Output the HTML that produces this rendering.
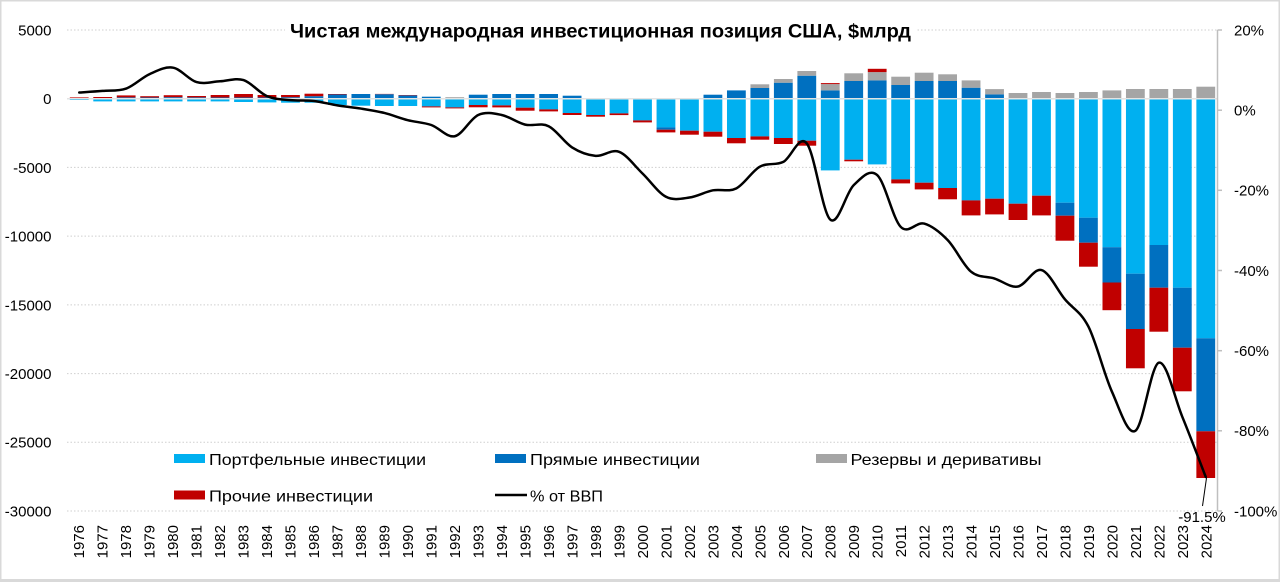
<!DOCTYPE html>
<html>
<head>
<meta charset="utf-8">
<style>
  html,body{margin:0;padding:0;background:#fff;}
  svg{display:block;}
  text{font-family:"Liberation Sans","Noto Sans CJK SC",sans-serif;fill:#000;}
</style>
</head>
<body>
<svg id="c" width="1280" height="582" viewBox="0 0 1280 582" xmlns="http://www.w3.org/2000/svg">
  <rect x="0" y="0" width="1280" height="582" fill="#D9D9D9"/>
  <rect x="1.5" y="1.5" width="1277" height="577.5" fill="#FFFFFF"/>

  <!-- gridlines -->
  <g stroke="#CFCFCF" stroke-width="1" stroke-dasharray="1.5 2">
    <line x1="67" y1="30" x2="1217" y2="30"/>
    <line x1="67" y1="167.4" x2="1217" y2="167.4"/>
    <line x1="67" y1="236.1" x2="1217" y2="236.1"/>
    <line x1="67" y1="304.9" x2="1217" y2="304.9"/>
    <line x1="67" y1="373.6" x2="1217" y2="373.6"/>
    <line x1="67" y1="442.3" x2="1217" y2="442.3"/>
    <line x1="67" y1="511" x2="1217" y2="511"/>
  </g>

  <!-- title background + title -->
  <rect x="285" y="18" width="631" height="26" fill="#FFFFFF"/>
  <text x="290" y="37.5" font-size="19" font-weight="bold" textLength="621" lengthAdjust="spacingAndGlyphs">Чистая международная инвестиционная позиция США, $млрд</text>

  <g id="bars"></g>
  <line x1="67" y1="98.7" x2="1217.5" y2="98.7" stroke="#E3E3E3" stroke-width="1.5"/>
  <path id="ln" d="" fill="none" stroke="#000" stroke-width="2.5" stroke-linejoin="round" stroke-linecap="round"/>

  <!-- right axis -->
  <g stroke="#BFBFBF" stroke-width="1.5">
    <line x1="1217.5" y1="30" x2="1217.5" y2="511"/>
    <line x1="1217.5" y1="30" x2="1222" y2="30"/>
    <line x1="1217.5" y1="110.2" x2="1222" y2="110.2"/>
    <line x1="1217.5" y1="190.3" x2="1222" y2="190.3"/>
    <line x1="1217.5" y1="270.5" x2="1222" y2="270.5"/>
    <line x1="1217.5" y1="350.7" x2="1222" y2="350.7"/>
    <line x1="1217.5" y1="430.8" x2="1222" y2="430.8"/>
    <line x1="1217.5" y1="511" x2="1222" y2="511"/>
  </g>

  <!-- left axis labels -->
  <g font-size="15" text-anchor="end">
    <text x="51.5" y="35.4">5000</text>
    <text x="51.5" y="104.1">0</text>
    <text x="51.5" y="172.8">-5000</text>
    <text x="51.5" y="241.5">-10000</text>
    <text x="51.5" y="310.3">-15000</text>
    <text x="51.5" y="379">-20000</text>
    <text x="51.5" y="447.7">-25000</text>
    <text x="51.5" y="516.4">-30000</text>
  </g>

  <!-- right axis labels -->
  <g font-size="15">
    <text x="1234" y="35.4">20%</text>
    <text x="1234" y="115.6">0%</text>
    <text x="1234" y="195.7">-20%</text>
    <text x="1234" y="275.9">-40%</text>
    <text x="1234" y="356.1">-60%</text>
    <text x="1234" y="436.2">-80%</text>
    <text x="1234" y="516.4">-100%</text>
  </g>

  <!-- data label -->
  <line x1="1206.5" y1="478" x2="1202.5" y2="506" stroke="#000" stroke-width="1"/>
  <text x="1202" y="522" font-size="15" text-anchor="middle">-91.5%</text>

  <!-- legend -->
  <rect x="174" y="454" width="31" height="9" fill="#00B0F0"/>
  <text x="209" y="465" font-size="16" textLength="217" lengthAdjust="spacingAndGlyphs">Портфельные инвестиции</text>
  <rect x="495" y="454" width="31" height="9" fill="#0070C0"/>
  <text x="530" y="465" font-size="16" textLength="170" lengthAdjust="spacingAndGlyphs">Прямые инвестиции</text>
  <rect x="816" y="454" width="31" height="9" fill="#A5A5A5"/>
  <text x="850.5" y="465" font-size="16" textLength="191" lengthAdjust="spacingAndGlyphs">Резервы и деривативы</text>
  <rect x="174" y="490.5" width="31" height="9" fill="#C00000"/>
  <text x="209" y="501.7" font-size="16" textLength="164" lengthAdjust="spacingAndGlyphs">Прочие инвестиции</text>
  <line x1="495" y1="495" x2="527" y2="495" stroke="#000" stroke-width="2.5"/>
  <text x="530" y="501.7" font-size="16" textLength="73" lengthAdjust="spacingAndGlyphs">% от ВВП</text>

  <!-- year labels -->
  <g font-size="15" text-anchor="end">
    <text transform="translate(84.2,525) rotate(-90)">1976</text>
    <text transform="translate(107.7,525) rotate(-90)">1977</text>
    <text transform="translate(131.2,525) rotate(-90)">1978</text>
    <text transform="translate(154.6,525) rotate(-90)">1979</text>
    <text transform="translate(178.1,525) rotate(-90)">1980</text>
    <text transform="translate(201.6,525) rotate(-90)">1981</text>
    <text transform="translate(225.1,525) rotate(-90)">1982</text>
    <text transform="translate(248.6,525) rotate(-90)">1983</text>
    <text transform="translate(272.1,525) rotate(-90)">1984</text>
    <text transform="translate(295.6,525) rotate(-90)">1985</text>
    <text transform="translate(319.0,525) rotate(-90)">1986</text>
    <text transform="translate(342.5,525) rotate(-90)">1987</text>
    <text transform="translate(366.0,525) rotate(-90)">1988</text>
    <text transform="translate(389.5,525) rotate(-90)">1989</text>
    <text transform="translate(413.0,525) rotate(-90)">1990</text>
    <text transform="translate(436.5,525) rotate(-90)">1991</text>
    <text transform="translate(460.0,525) rotate(-90)">1992</text>
    <text transform="translate(483.4,525) rotate(-90)">1993</text>
    <text transform="translate(506.9,525) rotate(-90)">1994</text>
    <text transform="translate(530.4,525) rotate(-90)">1995</text>
    <text transform="translate(553.9,525) rotate(-90)">1996</text>
    <text transform="translate(577.4,525) rotate(-90)">1997</text>
    <text transform="translate(600.9,525) rotate(-90)">1998</text>
    <text transform="translate(624.4,525) rotate(-90)">1999</text>
    <text transform="translate(647.8,525) rotate(-90)">2000</text>
    <text transform="translate(671.3,525) rotate(-90)">2001</text>
    <text transform="translate(694.8,525) rotate(-90)">2002</text>
    <text transform="translate(718.3,525) rotate(-90)">2003</text>
    <text transform="translate(741.8,525) rotate(-90)">2004</text>
    <text transform="translate(765.3,525) rotate(-90)">2005</text>
    <text transform="translate(788.8,525) rotate(-90)">2006</text>
    <text transform="translate(812.2,525) rotate(-90)">2007</text>
    <text transform="translate(835.7,525) rotate(-90)">2008</text>
    <text transform="translate(859.2,525) rotate(-90)">2009</text>
    <text transform="translate(882.7,525) rotate(-90)">2010</text>
    <text transform="translate(906.2,525) rotate(-90)">2011</text>
    <text transform="translate(929.7,525) rotate(-90)">2012</text>
    <text transform="translate(953.2,525) rotate(-90)">2013</text>
    <text transform="translate(976.6,525) rotate(-90)">2014</text>
    <text transform="translate(1000.1,525) rotate(-90)">2015</text>
    <text transform="translate(1023.6,525) rotate(-90)">2016</text>
    <text transform="translate(1047.1,525) rotate(-90)">2017</text>
    <text transform="translate(1070.6,525) rotate(-90)">2018</text>
    <text transform="translate(1094.1,525) rotate(-90)">2019</text>
    <text transform="translate(1117.6,525) rotate(-90)">2020</text>
    <text transform="translate(1141.0,525) rotate(-90)">2021</text>
    <text transform="translate(1164.5,525) rotate(-90)">2022</text>
    <text transform="translate(1188.0,525) rotate(-90)">2023</text>
    <text transform="translate(1211.5,525) rotate(-90)">2024</text>
  </g>
</svg>
<script>
(function(){
  var NS="http://www.w3.org/2000/svg";
  var L=67.5,R=1217.5,N=49,cw=(R-L)/N,bw=18.8,y0=98.7;
  // [portfolio, direct, reserves, other] in px (positive = up)
  var d=[
  [-1.3,0,0,1.3],[-2.7,0.7,0,1.0],[-2.7,1.3,0,2],[-2.7,1.2,0,1.3],[-2.7,1.5,0,2],
  [-2.7,1.3,0,1.4],[-2.7,1.2,0,2.5],[-3.3,1.2,0,3.5],[-3.7,1.2,0,2.5],[-4,1.5,0,2.2],
  [-4,2.5,0,2.5],[-6.3,4.2,0,0.5],[-7,4.7,0,0],[-7.3,4.5,0,0.3],[-7.3,3.3,0,0.4],
  [-7.7,2,0,-1],[-8.7,0.5,1,-1],[-6.3,4,0,-2.3],[-6.7,4.7,0,-2],[-9,4.7,0,-3],
  [-10.7,4.7,0,-2],[-14.3,3,0,-2],[-16.3,0,0,-1.7],[-14.7,0,0,-1.7],[-21.7,0,0,-2],
  [-28.7,-2.3,0,-2.7],[-32,0,0,-4],[-33,4,0,-5],[-39.3,8.3,0,-5.3],[-37.7,10.7,3.7,-3.3],
  [-39.3,16,3.7,-6],[-42,23,4.7,-5],[-71.7,8.3,6.3,1],[-61,17.7,7.7,-1.6],[-65.7,18.3,8.3,3.3],
  [-80.7,13.7,8.3,-4],[-84,17.7,8.3,-6.7],[-89.3,17.7,6.7,-11.3],[-101.7,11,7.3,-15],[-100,4.3,5.3,-15.7],
  [-105,0,5.7,-16.3],[-97,0,6.7,-19.7],[-104,-13,5.7,-25],[-119,-25,6.7,-24],[-148.5,-35.3,8.3,-27.7],
  [-175,-55.3,9.7,-39.3],[-146.3,-42.7,9.7,-44],[-189,-60,9.7,-43.6],[-239.6,-93,12,-46.7]
  ];
  var col=["#00B0F0","#0070C0","#A5A5A5","#C00000"];
  var g=document.getElementById("bars");
  for(var i=0;i<N;i++){
    var cx=L+cw*(i+0.5),x=cx-bw/2,pos=y0,neg=y0;
    for(var s=0;s<4;s++){
      var v=d[i][s]; if(!v) continue;
      var r=document.createElementNS(NS,"rect");
      r.setAttribute("x",x.toFixed(2));r.setAttribute("width",bw);
      if(v>0){pos-=v;r.setAttribute("y",pos.toFixed(2));r.setAttribute("height",v.toFixed(2));}
      else{r.setAttribute("y",neg.toFixed(2));r.setAttribute("height",(-v).toFixed(2));neg-=v;}
      r.setAttribute("fill",col[s]);
      g.appendChild(r);
    }
  }
  var p=[4.4,4.8,5.4,9.0,10.6,7.0,7.2,7.5,3.5,2.5,2.3,1.2,0.4,-0.7,-2.5,-3.7,-6.5,-1.2,-1.2,-3.6,
         -4.0,-9.3,-11.4,-10.4,-15.8,-21.6,-21.8,-20.0,-19.5,-14.1,-12.9,-8.3,-27.3,-18.7,-16.2,
         -29.1,-28.3,-32.4,-40.3,-42.0,-44.0,-39.9,-47.2,-54.0,-70.2,-80.0,-63.0,-76.5,-91.5];
  var k=481/120,z=30+20*k,pts=[];
  for(var i=0;i<p.length;i++){pts.push([L+cw*(i+0.5),z-p[i]*k]);}
  var dd="M"+pts[0][0].toFixed(2)+","+pts[0][1].toFixed(2);
  for(var i=0;i<pts.length-1;i++){
    var p0=pts[i-1]||pts[i],p1=pts[i],p2=pts[i+1],p3=pts[i+2]||pts[i+1];
    var c1x=p1[0]+(p2[0]-p0[0])/6,c1y=p1[1]+(p2[1]-p0[1])/6;
    var c2x=p2[0]-(p3[0]-p1[0])/6,c2y=p2[1]-(p3[1]-p1[1])/6;
    dd+=" C"+c1x.toFixed(2)+","+c1y.toFixed(2)+" "+c2x.toFixed(2)+","+c2y.toFixed(2)+" "+p2[0].toFixed(2)+","+p2[1].toFixed(2);
  }
  document.getElementById("ln").setAttribute("d",dd);
})();
</script>
</body>
</html>
